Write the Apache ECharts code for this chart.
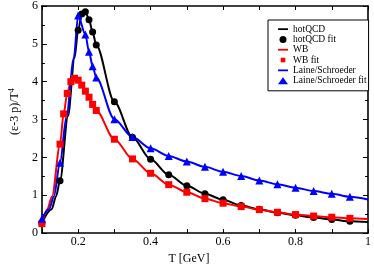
<!DOCTYPE html>
<html><head><meta charset="utf-8">
<script src="https://cdn.jsdelivr.net/npm/echarts@6/dist/echarts.min.js"></script>
<style>html,body{margin:0;padding:0;background:#fff}#c{width:374px;height:270px}</style>
</head><body><div id="c"></div>
<script>
// ---- data ----
const xTickLabels = {0.2:'0.2',0.4:'0.4',0.6:'0.6',0.8:'0.8',1:'1'};
const yTickLabels = ['0','1','2','3','4','5','6'];

// fit points (markers)
const hotT   = [0.1,0.15,0.2,0.21,0.22,0.23,0.24,0.25,0.3,0.35,0.4,0.45,0.5,0.55,0.6,0.65,0.7,0.75,0.8,0.85,0.9,0.95];
const hotFit = [0.27,1.38,5.36,5.79,5.85,5.64,5.31,4.97,3.47,2.53,1.95,1.54,1.25,1.04,0.88,0.73,0.63,0.54,0.47,0.41,0.36,0.31];
const wbT    = [0.1,0.15,0.16,0.17,0.18,0.19,0.2,0.21,0.22,0.23,0.24,0.25,0.3,0.35,0.4,0.45,0.5,0.55,0.6,0.65,0.7,0.75,0.8,0.85,0.9,0.95];
const wbFit  = [0.25,2.35,3.15,3.69,4.0,4.09,4.04,3.91,3.75,3.59,3.40,3.24,2.48,1.96,1.58,1.28,1.08,0.91,0.79,0.70,0.62,0.55,0.49,0.45,0.42,0.39];
const lsT    = [0.1,0.15,0.2,0.22,0.23,0.24,0.25,0.3,0.35,0.4,0.45,0.5,0.55,0.6,0.65,0.7,0.75,0.8,0.85,0.9,0.95];
const lsFit  = [0.38,1.86,5.75,5.25,4.79,4.41,4.11,3.01,2.54,2.24,2.04,1.89,1.75,1.62,1.51,1.39,1.29,1.20,1.11,1.04,0.96];

// curves (lines)
const hotCurveT = [0.1,0.127,0.139,0.15,0.172,0.19,0.2,0.21,0.22,0.23,0.24,0.25,0.3,0.35,0.4,0.45,0.5,0.55,0.6,0.65,0.7,0.75,0.8,0.85,0.9,0.95,1.0];
const hotCurve  = [0.27,0.63,0.97,1.38,3.09,4.62,5.36,5.79,5.85,5.64,5.31,4.97,3.47,2.53,1.95,1.54,1.25,1.04,0.88,0.73,0.63,0.54,0.47,0.41,0.36,0.31,0.29];
const wbCurveT  = [0.1,0.115,0.128,0.15,0.16,0.17,0.18,0.19,0.2,0.21,0.22,0.23,0.24,0.25,0.3,0.35,0.4,0.45,0.5,0.55,0.6,0.65,0.7,0.75,0.8,0.85,0.9,0.95,1.0];
const wbCurve   = [0.25,0.63,0.97,2.35,3.15,3.69,4.0,4.09,4.04,3.91,3.75,3.59,3.40,3.24,2.48,1.96,1.58,1.28,1.08,0.91,0.79,0.70,0.62,0.55,0.49,0.45,0.42,0.39,0.37];
const lsCurveT  = [0.1,0.12,0.133,0.15,0.168,0.188,0.2,0.22,0.23,0.24,0.25,0.3,0.35,0.4,0.45,0.5,0.55,0.6,0.65,0.7,0.75,0.8,0.85,0.9,0.95,1.0];
const lsCurve   = [0.38,0.63,0.97,1.86,3.09,4.62,5.75,5.25,4.79,4.41,4.11,3.01,2.54,2.24,2.04,1.89,1.75,1.62,1.51,1.39,1.29,1.20,1.11,1.04,0.96,0.89];

const names = ['hotQCD','hotQCD fit','WB','WB fit','Laine/Schroeder','Laine/Schroeder fit'];

// ---- build ----
const zip = (a,b) => a.map((x,i)=>[x,b[i]]);
const FONT = 'Liberation Serif';
const BLACK='#000000', RED='#ff0000', BLUE='#0000ff';
const LINE_ICON = 'path://M0,0M10,7M0,2.6H10V4.4H0Z';
const SQUARE_ICON = 'path://M0,0M7,7M1.2,1.2H5.8V5.8H1.2Z';

function xAx(pos){
  return {type:'value', position:pos, min:0.1, max:1.0, interval:0.1,
    axisLine:{show:true,onZero:false,lineStyle:{color:'#000',width:1.6}},
    axisTick:{show:true,inside:true,length:4,lineStyle:{color:'#000',width:1}},
    splitLine:{show:false},
    axisLabel:{show:pos==='bottom',margin:3,color:'#000',fontFamily:FONT,fontSize:12,
      formatter:v=>{const k=Math.round(v*10)/10; return xTickLabels[k]||'';}}
  };
}
function yAx(pos){
  return {type:'value', position:pos, min:0, max:6, interval:1,
    axisLine:{show:true,onZero:false,lineStyle:{color:'#000',width:1.6}},
    axisTick:{show:true,inside:true,length:5,lineStyle:{color:'#000',width:1}},
    minorTick:{show:true,splitNumber:2,length:3,lineStyle:{color:'#000',width:1}},
    splitLine:{show:false}, minorSplitLine:{show:false},
    axisLabel:{show:pos==='left',margin:4,color:'#000',fontFamily:FONT,fontSize:12,
      formatter:v=>yTickLabels[Math.round(v)]}
  };
}
const bx = xAx('bottom');
bx.name='T [GeV]'; bx.nameLocation='middle'; bx.nameGap=13;
bx.nameTextStyle={fontFamily:FONT,fontSize:12,color:'#000',padding:[0,32,0,0]};
const tx = xAx('top');
const ly = yAx('left');
ly.name='(ε-3 p)/T{s|4}'; ly.nameLocation='middle'; ly.nameGap=16;
ly.nameTextStyle={fontFamily:FONT,fontSize:12,color:'#000',padding:[0,0,0,16],
  rich:{s:{fontFamily:FONT,fontSize:8,color:'#000',verticalAlign:'top',padding:[0,0,6,0]}}};
const ry = yAx('right');

function lineS(name,t,v,color){
  return {name,type:'line',xAxisIndex:0,yAxisIndex:0,data:zip(t,v),smooth:0.3,smoothMonotone:'x',
    showSymbol:false,symbol:'none',lineStyle:{color,width:2},itemStyle:{color},z:2,animation:false};
}
function markS(name,t,v,color,symbol,size){
  return {name,type:'scatter',xAxisIndex:0,yAxisIndex:0,data:zip(t,v),symbol,symbolSize:size,
    itemStyle:{color,opacity:1},z:3,animation:false};
}

const option = {
  animation:false,
  backgroundColor:'#fff',
  grid:{left:31,right:2,top:6,bottom:28,containLabel:false},
  xAxis:[bx,tx],
  yAxis:[ly,ry],
  legend:{orient:'vertical',left:268,top:20,padding:[4,2,5,10],itemWidth:10,itemHeight:7,itemGap:0,
    backgroundColor:'#fff',borderColor:'#000',borderWidth:1,borderRadius:0,
    textStyle:{fontFamily:FONT,fontSize:9.5,color:'#000',lineHeight:10.3},
    selectedMode:false,
    data:[{name:names[0],icon:LINE_ICON},{name:names[1]},{name:names[2],icon:LINE_ICON},
      {name:names[3],icon:SQUARE_ICON},
      {name:names[4],icon:LINE_ICON},{name:names[5]}]},
  series:[
    lineS(names[0],hotCurveT,hotCurve,BLACK),
    markS(names[1],hotT,hotFit,BLACK,'circle',7),
    lineS(names[2],wbCurveT,wbCurve,RED),
    markS(names[3],wbT,wbFit,RED,'rect',7),
    lineS(names[4],lsCurveT,lsCurve,BLUE),
    markS(names[5],lsT,lsFit,BLUE,'triangle',8)
  ]
};
const chart = echarts.init(document.getElementById('c'),null,{renderer:'canvas'});
chart.setOption(option);
</script></body></html>
